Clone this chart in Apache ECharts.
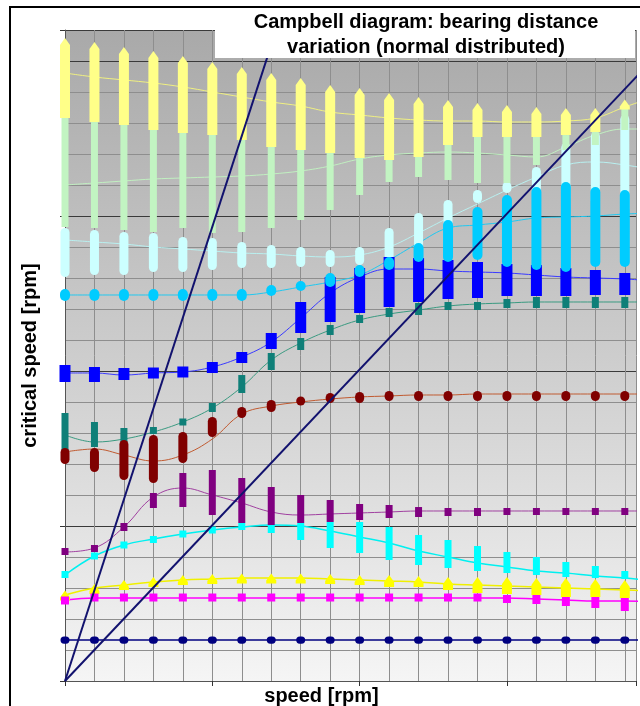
<!DOCTYPE html>
<html>
<head>
<meta charset="utf-8">
<script src="https://cdn.jsdelivr.net/npm/echarts@6.0.0/dist/echarts.min.js"></script>
<style>
html,body{margin:0;padding:0;background:#fff}
#chart{width:640px;height:706px}
</style>
</head>
<body>
<div id="chart"></div>
<script>
// speed [rpm] at each computed point (last one lies beyond the visible axis end)
const speeds = [0,500,1000,1500,2000,2500,3000,3500,4000,4500,5000,5500,6000,6500,7000,7500,8000,8500,9000,9500,10000];

// mode 1 (navy)
const navyLine = [660,660,660,660,660,660,660,660,660,660,660,660,660,660,660,660,660,660,660,660,660];
const navyLo   = [660,660,660,660,660,660,660,660,660,660,660,660,660,660,660,660,660,660,660,660];
const navyHi   = [660,660,660,660,660,660,660,660,660,660,660,660,660,660,660,660,660,660,660,660];
// mode 2 (magenta)
const magentaLine = [1306,1339,1339,1339,1339,1339,1339,1339,1339,1339,1339,1339,1339,1339,1339,1339,1323,1306,1290,1290,1274];
const magentaLo   = [1242,1290,1290,1290,1290,1290,1290,1290,1290,1290,1290,1290,1290,1290,1290,1258,1242,1210,1177,1129];
const magentaHi   = [1355,1403,1403,1403,1403,1403,1403,1403,1403,1403,1403,1403,1403,1403,1403,1387,1387,1355,1355,1339];
// mode 3 (yellow)
const yellowLine = [1387,1500,1548,1597,1629,1645,1661,1661,1661,1645,1629,1613,1597,1565,1548,1532,1516,1500,1484,1468,1452];
const yellowLo   = [1323,1419,1500,1532,1565,1581,1581,1581,1581,1565,1548,1516,1516,1468,1419,1403,1387,1355,1355,1339];
const yellowHi   = [1435,1548,1597,1661,1694,1710,1726,1726,1726,1726,1710,1710,1694,1677,1677,1677,1661,1661,1645,1629];
// mode 4 (cyan)
const cyanLine = [1710,2016,2194,2290,2371,2435,2484,2516,2500,2419,2323,2226,2097,2000,1903,1839,1774,1742,1694,1661,1613];
const cyanLo   = [1661,1968,2145,2226,2323,2387,2435,2387,2274,2145,2065,1952,1871,1823,1774,1742,1710,1677,1661,1645];
const cyanHi   = [1774,2065,2242,2339,2419,2484,2548,2516,2548,2565,2565,2484,2355,2274,2177,2081,2000,1919,1855,1774];
// mode 5 (purple)
const purpleLine = [2081,2145,2484,2968,3113,3000,2871,2726,2677,2694,2710,2726,2742,2742,2742,2742,2742,2742,2742,2742,2742];
const purpleLo   = [2032,2081,2419,2790,2806,2677,2548,2516,2548,2565,2597,2629,2645,2661,2661,2694,2694,2694,2694,2694];
const purpleHi   = [2145,2194,2548,3032,3355,3403,3274,3129,3000,2919,2855,2839,2806,2790,2790,2774,2774,2774,2774,2774];
// mode 6 (dark red)
const redLine = [3694,3742,3645,3548,3645,3903,4306,4435,4500,4548,4581,4597,4613,4613,4629,4629,4629,4629,4629,4629,4629];
const redLo   = [3500,3371,3242,3194,3516,3935,4242,4339,4452,4484,4484,4516,4516,4516,4516,4516,4516,4516,4516,4516];
const redHi   = [3758,3758,3887,3968,4016,4258,4419,4532,4581,4645,4661,4677,4677,4677,4677,4677,4677,4677,4677,4677];
// mode 7 (teal)
const tealLine = [3968,3855,3903,4016,4177,4403,4742,5177,5452,5661,5823,5919,5984,6048,6081,6097,6113,6113,6113,6113,6113];
const tealLo   = [3677,3774,3855,4000,4145,4339,4645,5016,5339,5581,5774,5871,5903,5984,5984,6016,6016,6016,6016,6016];
const tealHi   = [4323,4177,4081,4081,4210,4484,4935,5290,5532,5742,5903,6016,6097,6113,6113,6161,6194,6194,6194,6194];
// mode 8 (blue)
const blueLine = [4968,4968,4935,4968,4984,5065,5226,5468,5855,6258,6516,6645,6645,6613,6597,6581,6548,6516,6500,6484,6452];
const blueLo   = [4823,4823,4855,4887,4903,4968,5145,5355,5613,5790,5935,6032,6113,6161,6177,6210,6210,6210,6226,6226];
const blueHi   = [5097,5065,5048,5048,5065,5145,5290,5613,6113,6516,6661,6839,6823,6790,6758,6726,6710,6661,6629,6581];
// mode 9 (sky blue)
const skyLine = [6226,6226,6226,6226,6226,6226,6226,6274,6355,6435,6548,6790,7065,7306,7355,7403,7468,7484,7500,7532,7548];
const skyLo   = [6129,6129,6129,6129,6129,6129,6129,6210,6290,6355,6516,6629,6758,6758,6790,6677,6629,6597,6677,6677];
const skyHi   = [6323,6323,6323,6323,6323,6323,6323,6387,6452,6581,6710,6839,7065,7435,7645,7839,7968,8048,7968,7919];
// mode 10 (pale cyan)
const paleCyanLine = [7113,7081,7048,7000,6968,6935,6903,6887,6855,6839,6871,7000,7226,7468,7694,7919,8129,8323,8371,8323,8242];
const paleCyanLo   = [6516,6548,6548,6597,6597,6629,6661,6661,6677,6677,6710,6790,6839,6952,7710,7871,7806,7726,7677,7548];
const paleCyanHi   = [7306,7274,7242,7226,7161,7145,7081,7032,7000,6952,7000,7306,7548,7758,7919,8048,8290,8677,8855,9129];
// mode 11 (pale green)
const greenLine = [8000,8032,8065,8097,8113,8129,8145,8177,8226,8306,8419,8484,8516,8532,8516,8484,8452,8613,8806,8903,8903];
const greenLo   = [7323,7306,7274,7242,7306,7226,7242,7306,7435,7597,7839,8048,8129,8081,8032,8032,8323,8565,8645,8887];
const greenHi   = [9129,9048,9000,8968,8919,8887,8806,8726,8645,8565,8532,8645,8726,8726,8774,8774,8774,8806,8887,9258];
// mode 12 (pale yellow)
const paleYellowLine = [9806,9742,9694,9645,9581,9500,9419,9339,9274,9177,9129,9081,9048,9032,9032,9016,9016,9032,9081,9258,9419];
const paleYellowLo   = [9081,9016,8968,8887,8839,8806,8726,8613,8565,8516,8435,8403,8452,8645,8774,8774,8774,8806,8855,9258];
const paleYellowHi   = [10371,10306,10226,10161,10081,9984,9903,9806,9726,9613,9565,9484,9419,9371,9323,9290,9258,9242,9242,9339];

// excitation lines [speed, critical speed]
const orderLow  = [[0, 0], [10000, 10050]];
const orderHigh = [[0, 0], [3600, 10550]];

const titleLines = ['Campbell diagram: bearing distance', 'variation (normal distributed)'];
const xName = 'speed [rpm]';
const yName = 'critical speed [rpm]';

const FONT = '"Liberation Sans", Arial, sans-serif';

function meanLine(name, vals, color, width) {
  return {
    type: 'line', name: name + ' mean', silent: true, smooth: 0.4,
    symbol: 'none', showSymbol: false, animation: false,
    data: vals.map((v, i) => [speeds[i], v]),
    lineStyle: { color: color, width: width }, itemStyle: { color: color }, z: 2
  };
}

function rangeSeries(name, lo, hi, color, w, shape) {
  return {
    type: 'custom', name: name, silent: true, animation: false, z: 3,
    data: lo.map((v, i) => [speeds[i], v, hi[i]]),
    encode: { x: 0, y: [1, 2] },
    renderItem: function (params, api) {
      const sx = api.value(0);
      const pLo = api.coord([sx, api.value(1)]);
      const pHi = api.coord([sx, api.value(2)]);
      const minH = shape === 'ellipse' ? w * 0.8 : w;
      let top = pHi[1], bot = pLo[1];
      if (bot - top < minH) { const c = (top + bot) / 2; top = c - minH / 2; bot = c + minH / 2; }
      const cx = pLo[0];
      if (shape === 'triangle') {
        return {
          type: 'polygon',
          shape: { points: [[cx, top], [cx + w / 2, top + w * 0.7], [cx + w / 2, bot], [cx - w / 2, bot], [cx - w / 2, top + w * 0.7]] },
          style: { fill: color }
        };
      }
      const r = shape === 'square' ? 0 : Math.min(w / 2, (bot - top) / 2);
      return { type: 'rect', shape: { x: cx - w / 2, y: top, width: w, height: bot - top, r: r }, style: { fill: color } };
    }
  };
}

const modes = [
  ['pale cyan',   paleCyanLine,   paleCyanLo,   paleCyanHi,   '#ccffff', '#b8f0f0', 9,  'round'],
  ['pale green',  greenLine,      greenLo,      greenHi,      '#c2f4c2', '#c0f0c0', 7,  'square'],
  ['pale yellow', paleYellowLine, paleYellowLo, paleYellowHi, '#ffff88', '#f0f080', 10, 'triangle'],
  ['blue',        blueLine,       blueLo,       blueHi,       '#0000ff', '#3a3aff', 11, 'square'],
  ['sky',         skyLine,        skyLo,        skyHi,        '#00ccff', '#20c8f0', 10, 'round'],
  ['teal',        tealLine,       tealLo,       tealHi,       '#0f7f78', '#3a9a80', 7,  'square'],
  ['red',         redLine,        redLo,        redHi,        '#800000', '#c05a30', 9,  'round'],
  ['purple',      purpleLine,     purpleLo,     purpleHi,     '#800080', '#a040a0', 7,  'square'],
  ['cyan',        cyanLine,       cyanLo,       cyanHi,       '#00ffff', '#00f0f0', 7,  'square'],
  ['yellow',      yellowLine,     yellowLo,     yellowHi,     '#ffff00', '#f0f000', 10, 'triangle'],
  ['magenta',     magentaLine,    magentaLo,    magentaHi,    '#ff00ff', '#ff00ff', 8,  'square'],
  ['navy',        navyLine,       navyLo,       navyHi,       '#000080', '#000080', 9,  'ellipse']
];

const series = [];
modes.forEach(m => series.push(meanLine(m[0], m[1], m[5], m[0] === 'navy' || m[0] === 'magenta' || m[0] === 'yellow' || m[0] === 'cyan' ? 1.5 : 1)));
modes.forEach(m => series.push(rangeSeries(m[0], m[2], m[3], m[4], m[6], m[7])));
[orderLow, orderHigh].forEach((d, k) => series.push({
  type: 'line', name: 'order ' + (k + 1), silent: true, symbol: 'none', animation: false,
  data: d, lineStyle: { color: '#12126e', width: 2 }, z: 5
}));

const chart = echarts.init(document.getElementById('chart'), null, { renderer: 'canvas' });
chart.setOption({
  animation: false,
  backgroundColor: '#ffffff',
  title: {
    text: titleLines.join('\n'), left: 421, top: 5, textAlign: 'center', z: 100,
    textStyle: { fontFamily: FONT, fontSize: 20, fontWeight: 'bold', color: '#000', lineHeight: 25 }
  },
  grid: {
    left: 65, top: 30, right: 4, bottom: 25, show: true, borderWidth: 0,
    outerBoundsMode: 'none',
    backgroundColor: { type: 'linear', x: 0, y: 0, x2: 0, y2: 1,
      colorStops: [{ offset: 0, color: '#a9a9a9' }, { offset: 0.5, color: '#cdcdcd' }, { offset: 1, color: '#f5f5f5' }] }
  },
  xAxis: [
    { type: 'value', min: 0, max: 9690, interval: 500,
      axisLine: { show: true, onZero: false, lineStyle: { color: '#555', width: 1 } },
      axisTick: { show: false }, axisLabel: { show: false },
      splitLine: { show: true, lineStyle: { color: '#8e8e8e', width: 1 } },
      name: xName, nameLocation: 'middle', nameGap: 5,
      nameTextStyle: { fontFamily: FONT, fontSize: 20, fontWeight: 'bold', color: '#000', padding: [0, 58, 0, 0] } },
    { type: 'value', min: 0, max: 9690, interval: 2500, position: 'bottom',
      axisLine: { show: false }, axisLabel: { show: false }, splitLine: { show: false },
      axisTick: { show: true, inside: false, length: 5, lineStyle: { color: '#333' } } }
  ],
  yAxis: [
    { type: 'value', min: 0, max: 10500, interval: 500,
      axisLine: { show: true, onZero: false, lineStyle: { color: '#555', width: 1 } },
      axisTick: { show: false }, axisLabel: { show: false },
      splitLine: { show: true, lineStyle: { color: '#8e8e8e', width: 1 } },
      name: yName, nameLocation: 'middle', nameRotate: 90, nameGap: 25,
      nameTextStyle: { fontFamily: FONT, fontSize: 20, fontWeight: 'bold', color: '#000' } },
    { type: 'value', min: 0, max: 10500, interval: 2500, position: 'left', offset: 0,
      axisLine: { show: false }, axisLabel: { show: false },
      splitLine: { show: true, lineStyle: { color: '#3a3a3a', width: 1.2 } },
      axisTick: { show: true, inside: false, length: 5, lineStyle: { color: '#333' } } }
  ],
  graphic: [
    { type: 'rect', shape: { x: 215, y: 8, width: 420, height: 50 }, style: { fill: '#ffffff' }, z: 50 },
    { type: 'rect', shape: { x: 10, y: 7, width: 700, height: 800 }, style: { fill: 'none', stroke: '#000', lineWidth: 2 }, z: 60 }
  ],
  series: series
});
</script>
</body>
</html>
